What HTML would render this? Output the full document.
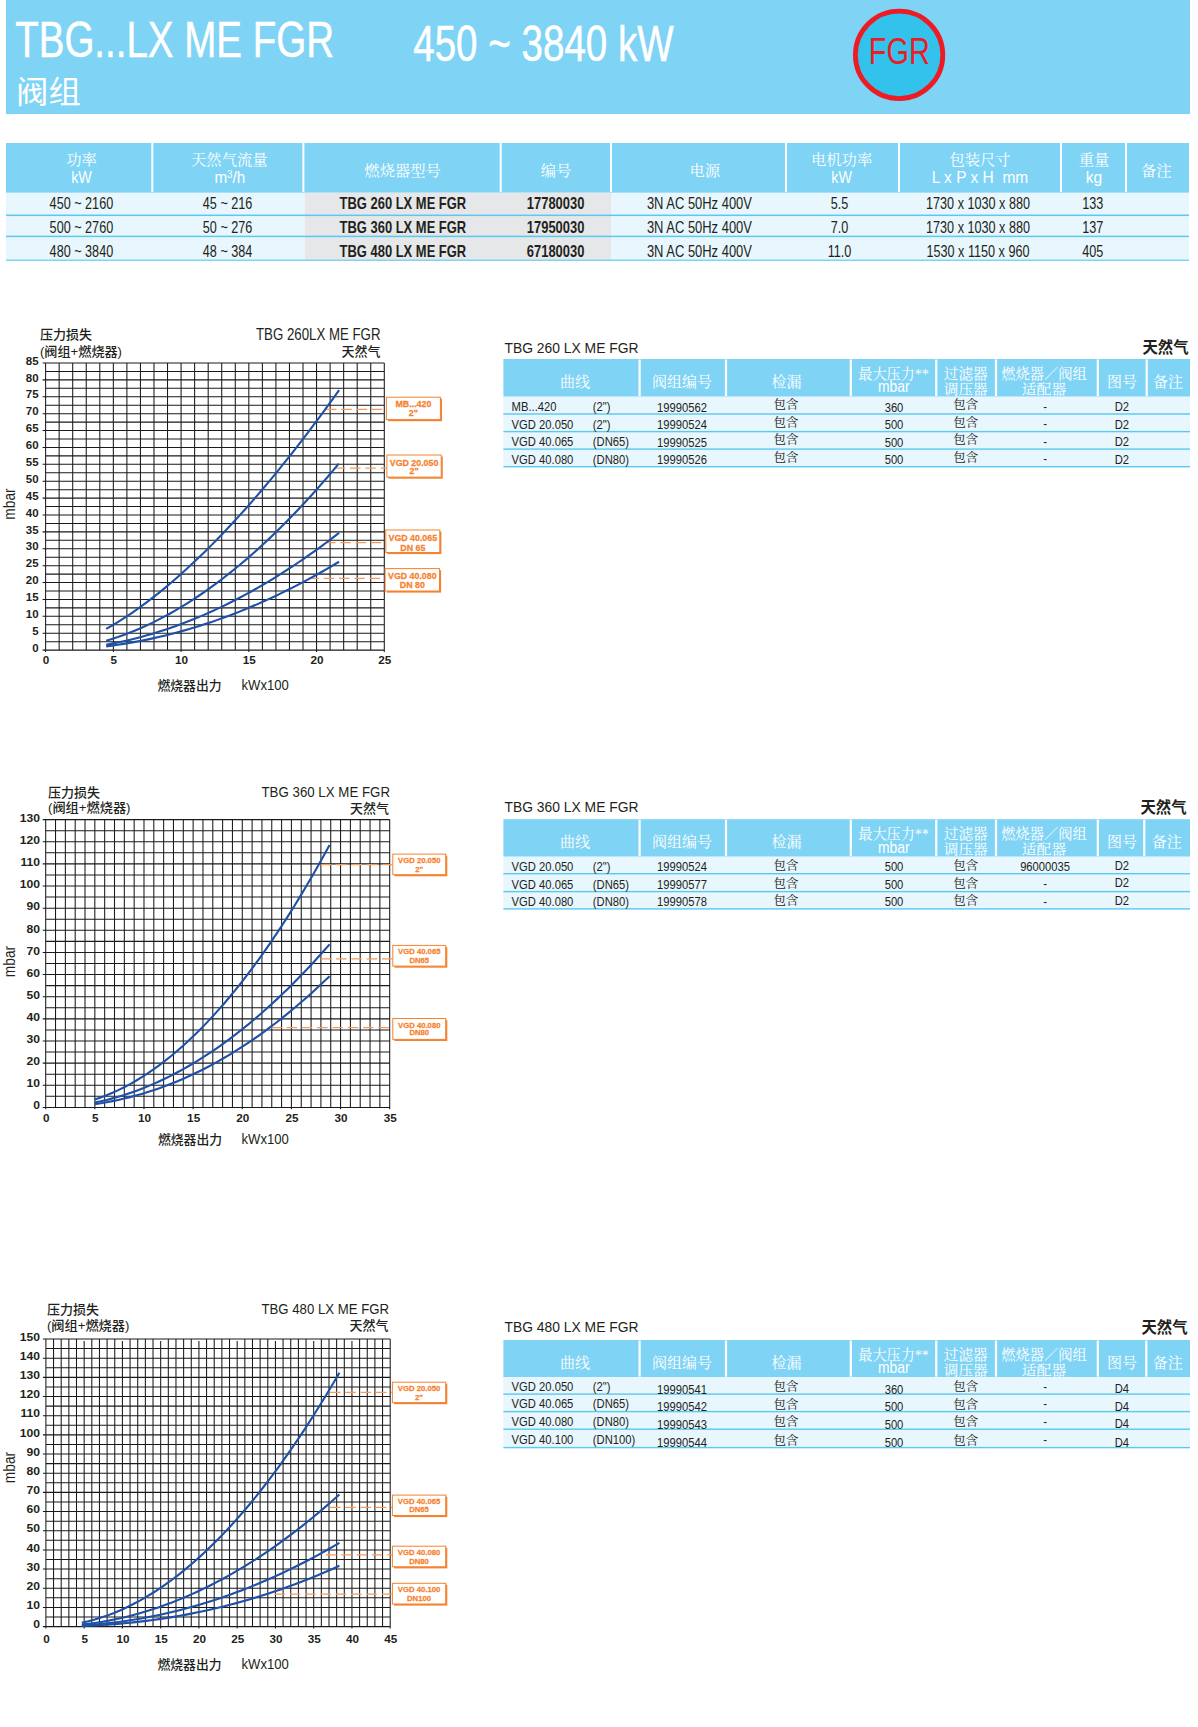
<!DOCTYPE html>
<html lang="zh-CN">
<head>
<meta charset="utf-8">
<title>TBG...LX ME FGR 450 ~ 3840 kW 阀组</title>
<style>
html,body{margin:0;padding:0;background:#fff}
body{width:1198px;height:1727px;position:relative;overflow:hidden}
.sec{position:absolute;overflow:hidden}
.sec svg{display:block}
.a{font-family:"Liberation Sans","Noto Sans CJK SC",sans-serif}
.h{font-family:"Liberation Sans","Noto Sans CJK SC","WenQuanYi Zen Hei",sans-serif}
.s{font-family:"Liberation Serif","Noto Serif CJK SC","Noto Sans CJK SC",serif}
</style>
</head>
<body>
<div class="sec header" style="left:0px;top:0px;width:1198px;height:120px"><svg width="1198" height="120" viewBox="0 0 1198 120" fill="#231f20">
<rect x="6" y="0" width="1184" height="114" fill="#7fd3f5"/>
<text stroke="#fff" stroke-width="0.5" class="a" font-size="49.5" fill="#fff" x="15.2" y="56.7" textLength="318.8" lengthAdjust="spacingAndGlyphs">TBG...LX ME FGR</text>
<text stroke="#fff" stroke-width="0.5" class="a" font-size="49.3" fill="#fff" x="413.2" y="61.3" textLength="260.5" lengthAdjust="spacingAndGlyphs">450 ~ 3840 kW</text>
<text class="h" font-size="30.6" fill="#fff" transform="translate(16 103.4) scale(1.06 1)">阀组</text>
<circle cx="899.1" cy="54.9" r="43.7" fill="#32c2ec" stroke="#ed1c24" stroke-width="4.8"/>
<text class="a" font-size="36.3" text-anchor="middle" fill="#ed1c24" x="899.3" y="63.9" textLength="61" lengthAdjust="spacingAndGlyphs">FGR</text>
</svg></div>
<div class="sec maintable" style="left:0px;top:138px;width:1198px;height:128px"><svg width="1198" height="128" viewBox="0 138 1198 128" fill="#231f20">
<rect x="6" y="143" width="1183" height="49.8" fill="#7fd3f5"/>
<rect x="151.3" y="143" width="2" height="49" fill="#fff"/>
<rect x="302.4" y="143" width="2" height="49" fill="#fff"/>
<rect x="499.7" y="143" width="2" height="49" fill="#fff"/>
<rect x="610" y="143" width="2" height="49" fill="#fff"/>
<rect x="785" y="143" width="2" height="49" fill="#fff"/>
<rect x="898" y="143" width="2" height="49" fill="#fff"/>
<rect x="1060" y="143" width="2" height="49" fill="#fff"/>
<rect x="1125" y="143" width="2" height="49" fill="#fff"/>
<rect x="6" y="192.8" width="1183" height="67.4" fill="#e8f6fd"/>
<rect x="304.9" y="192.8" width="306.1" height="67.4" fill="#e6e7e8"/>
<rect x="6" y="214.55" width="1183" height="1.5" fill="#5bc8ef"/>
<rect x="6" y="235.65" width="1183" height="1.5" fill="#5bc8ef"/>
<rect x="6" y="259.5" width="1183" height="1.5" fill="#7dd4f6"/>
<text class="s" font-size="15.3" text-anchor="middle" fill="#fff" x="81.5" y="164.8">功率</text>
<text class="a" font-size="16.4" text-anchor="middle" fill="#fff" x="81.5" y="183" textLength="20.6" lengthAdjust="spacingAndGlyphs">kW</text>
<text class="s" font-size="15.3" text-anchor="middle" fill="#fff" x="229.3" y="164.8">天然气流量</text>
<text class="a" font-size="16.4" text-anchor="middle" fill="#fff" transform="translate(229.8 183) scale(0.93 1)">m<tspan font-size="10.5" dy="-5.2">3</tspan><tspan dy="5.2">/h</tspan></text>
<text class="s" font-size="15.3" text-anchor="middle" fill="#fff" x="402.6" y="175.6">燃烧器型号</text>
<text class="s" font-size="15.3" text-anchor="middle" fill="#fff" x="556" y="175.6">编号</text>
<text class="s" font-size="15.3" text-anchor="middle" fill="#fff" x="704.8" y="175.6">电源</text>
<text class="s" font-size="15.3" text-anchor="middle" fill="#fff" x="841.6" y="164.8">电机功率</text>
<text class="a" font-size="16.4" text-anchor="middle" fill="#fff" x="841.6" y="183" textLength="20.6" lengthAdjust="spacingAndGlyphs">kW</text>
<text class="s" font-size="15.3" text-anchor="middle" fill="#fff" x="980" y="164.8">包装尺寸</text>
<text class="a" font-size="15.6" text-anchor="middle" fill="#fff" x="980" y="183" textLength="96.5" lengthAdjust="spacingAndGlyphs">L x P x H  mm</text>
<text class="s" font-size="15.3" text-anchor="middle" fill="#fff" x="1094" y="164.8">重量</text>
<text class="a" font-size="16.4" text-anchor="middle" fill="#fff" x="1094" y="183" textLength="16.5" lengthAdjust="spacingAndGlyphs">kg</text>
<text class="s" font-size="15.3" text-anchor="middle" fill="#fff" x="1156.2" y="175.6">备注</text>
<text class="a" font-size="15.6" text-anchor="middle" transform="translate(81.4 209.3) scale(0.81 1)">450 ~ 2160</text>
<text class="a" font-size="15.6" text-anchor="middle" transform="translate(227.6 209.3) scale(0.81 1)">45 ~ 216</text>
<text class="a" font-size="15.6" text-anchor="middle" font-weight="bold" transform="translate(402.9 209.3) scale(0.83 1)">TBG 260 LX ME FGR</text>
<text class="a" font-size="15.6" text-anchor="middle" font-weight="bold" transform="translate(555.6 209.3) scale(0.83 1)">17780030</text>
<text class="a" font-size="15.6" text-anchor="middle" transform="translate(699.4 209.3) scale(0.83 1)">3N AC 50Hz 400V</text>
<text class="a" font-size="15.6" text-anchor="middle" transform="translate(839.5 209.3) scale(0.81 1)">5.5</text>
<text class="a" font-size="15.6" text-anchor="middle" transform="translate(978 209.3) scale(0.81 1)">1730 x 1030 x 880</text>
<text class="a" font-size="15.6" text-anchor="middle" transform="translate(1092.8 209.3) scale(0.81 1)">133</text>
<text class="a" font-size="15.6" text-anchor="middle" transform="translate(81.4 233) scale(0.81 1)">500 ~ 2760</text>
<text class="a" font-size="15.6" text-anchor="middle" transform="translate(227.6 233) scale(0.81 1)">50 ~ 276</text>
<text class="a" font-size="15.6" text-anchor="middle" font-weight="bold" transform="translate(402.9 233) scale(0.83 1)">TBG 360 LX ME FGR</text>
<text class="a" font-size="15.6" text-anchor="middle" font-weight="bold" transform="translate(555.6 233) scale(0.83 1)">17950030</text>
<text class="a" font-size="15.6" text-anchor="middle" transform="translate(699.4 233) scale(0.83 1)">3N AC 50Hz 400V</text>
<text class="a" font-size="15.6" text-anchor="middle" transform="translate(839.5 233) scale(0.81 1)">7.0</text>
<text class="a" font-size="15.6" text-anchor="middle" transform="translate(978 233) scale(0.81 1)">1730 x 1030 x 880</text>
<text class="a" font-size="15.6" text-anchor="middle" transform="translate(1092.8 233) scale(0.81 1)">137</text>
<text class="a" font-size="15.6" text-anchor="middle" transform="translate(81.4 256.9) scale(0.81 1)">480 ~ 3840</text>
<text class="a" font-size="15.6" text-anchor="middle" transform="translate(227.6 256.9) scale(0.81 1)">48 ~ 384</text>
<text class="a" font-size="15.6" text-anchor="middle" font-weight="bold" transform="translate(402.9 256.9) scale(0.83 1)">TBG 480 LX ME FGR</text>
<text class="a" font-size="15.6" text-anchor="middle" font-weight="bold" transform="translate(555.6 256.9) scale(0.83 1)">67180030</text>
<text class="a" font-size="15.6" text-anchor="middle" transform="translate(699.4 256.9) scale(0.83 1)">3N AC 50Hz 400V</text>
<text class="a" font-size="15.6" text-anchor="middle" transform="translate(839.5 256.9) scale(0.81 1)">11.0</text>
<text class="a" font-size="15.6" text-anchor="middle" transform="translate(978 256.9) scale(0.81 1)">1530 x 1150 x 960</text>
<text class="a" font-size="15.6" text-anchor="middle" transform="translate(1092.8 256.9) scale(0.81 1)">405</text>
</svg></div>
<div class="sec chart1" style="left:0px;top:320px;width:460px;height:380px"><svg width="460" height="380" viewBox="0 320 460 380" fill="#231f20">
<path d="M42.6 650.1H384.3M45.6 641.66H384.3M42.6 633.21H384.3M45.6 624.77H384.3M42.6 616.32H384.3M45.6 607.88H384.3M42.6 599.44H384.3M45.6 590.99H384.3M42.6 582.55H384.3M45.6 574.1H384.3M42.6 565.66H384.3M45.6 557.21H384.3M42.6 548.77H384.3M45.6 540.33H384.3M42.6 531.88H384.3M45.6 523.44H384.3M42.6 514.99H384.3M45.6 506.55H384.3M42.6 498.11H384.3M45.6 489.66H384.3M42.6 481.22H384.3M45.6 472.77H384.3M42.6 464.33H384.3M45.6 455.89H384.3M42.6 447.44H384.3M45.6 439H384.3M42.6 430.55H384.3M45.6 422.11H384.3M42.6 413.66H384.3M45.6 405.22H384.3M42.6 396.78H384.3M45.6 388.33H384.3M42.6 379.89H384.3M45.6 371.44H384.3M42.6 363H384.3M45.6 363V652M59.15 363V650.1M72.7 363V650.1M86.24 363V650.1M99.79 363V650.1M113.34 363V652M126.89 363V650.1M140.44 363V650.1M153.98 363V650.1M167.53 363V650.1M181.08 363V652M194.63 363V650.1M208.18 363V650.1M221.72 363V650.1M235.27 363V650.1M248.82 363V652M262.37 363V650.1M275.92 363V650.1M289.46 363V650.1M303.01 363V650.1M316.56 363V652M330.11 363V650.1M343.66 363V650.1M357.2 363V650.1M370.75 363V650.1M384.3 363V652" stroke="#1a1a1a" stroke-width="1.05" fill="none"/>
<line x1="325.9" y1="409.3" x2="386.4" y2="409.3" stroke="#f89a57" stroke-width="1.3" stroke-dasharray="10.5 4.8"/>
<rect x="388" y="398.8" width="54" height="22.4" fill="#f5822f"/>
<rect x="386.4" y="397.2" width="54" height="22.4" fill="#fff" stroke="#f5822f" stroke-width="1"/>
<text stroke="#f5822f" stroke-width="0.25" class="a" font-size="9.2" text-anchor="middle" font-weight="bold" fill="#f5822f" transform="translate(413.4 407) scale(0.96 1)">MB...420</text>
<text stroke="#f5822f" stroke-width="0.25" class="a" font-size="9.2" text-anchor="middle" font-weight="bold" fill="#f5822f" transform="translate(413.4 416.4) scale(0.96 1)">2"</text>
<line x1="334.7" y1="468.2" x2="386.9" y2="468.2" stroke="#f89a57" stroke-width="1.3" stroke-dasharray="10.5 4.8"/>
<rect x="388.5" y="456.6" width="54.3" height="22.1" fill="#f5822f"/>
<rect x="386.9" y="455" width="54.3" height="22.1" fill="#fff" stroke="#f5822f" stroke-width="1"/>
<text stroke="#f5822f" stroke-width="0.25" class="a" font-size="9.2" text-anchor="middle" font-weight="bold" fill="#f5822f" transform="translate(414.05 465.7) scale(0.96 1)">VGD 20.050</text>
<text stroke="#f5822f" stroke-width="0.25" class="a" font-size="9.2" text-anchor="middle" font-weight="bold" fill="#f5822f" transform="translate(414.05 474.3) scale(0.96 1)">2"</text>
<line x1="325" y1="542.6" x2="385.8" y2="542.6" stroke="#f89a57" stroke-width="1.3" stroke-dasharray="10.5 4.8"/>
<rect x="387.4" y="531.6" width="54" height="22.5" fill="#f5822f"/>
<rect x="385.8" y="530" width="54" height="22.5" fill="#fff" stroke="#f5822f" stroke-width="1"/>
<text stroke="#f5822f" stroke-width="0.25" class="a" font-size="9.2" text-anchor="middle" font-weight="bold" fill="#f5822f" transform="translate(412.8 540.5) scale(0.96 1)">VGD 40.065</text>
<text stroke="#f5822f" stroke-width="0.25" class="a" font-size="9.2" text-anchor="middle" font-weight="bold" fill="#f5822f" transform="translate(412.8 550.5) scale(0.96 1)">DN 65</text>
<line x1="308.4" y1="578.4" x2="385.1" y2="578.4" stroke="#f89a57" stroke-width="1.3" stroke-dasharray="10.5 4.8"/>
<rect x="386.7" y="570.2" width="54.4" height="22.4" fill="#f5822f"/>
<rect x="385.1" y="568.6" width="54.4" height="22.4" fill="#fff" stroke="#f5822f" stroke-width="1"/>
<text stroke="#f5822f" stroke-width="0.25" class="a" font-size="9.2" text-anchor="middle" font-weight="bold" fill="#f5822f" transform="translate(412.3 578.6) scale(0.96 1)">VGD 40.080</text>
<text stroke="#f5822f" stroke-width="0.25" class="a" font-size="9.2" text-anchor="middle" font-weight="bold" fill="#f5822f" transform="translate(412.3 588.4) scale(0.96 1)">DN 80</text>
<polyline points="106.16 628.92 111.98 625.6 117.8 622.1 123.63 618.43 129.45 614.59 135.27 610.59 141.09 606.44 146.92 602.13 152.74 597.68 158.56 593.08 164.38 588.34 170.2 583.46 176.03 578.44 181.85 573.29 187.67 568.01 193.49 562.6 199.32 557.07 205.14 551.41 210.96 545.62 216.78 539.72 222.6 533.69 228.43 527.55 234.25 521.29 240.07 514.91 245.89 508.43 251.72 501.83 257.54 495.12 263.36 488.3 269.18 481.37 275 474.33 280.83 467.19 286.65 459.94 292.47 452.59 298.29 445.14 304.12 437.59 309.94 429.93 315.76 422.18 321.58 414.32 327.41 406.37 333.23 398.32 339.05 390.17" fill="none" stroke="#1f50a5" stroke-width="2.1"/>
<polyline points="106.16 640.79 111.98 639.01 117.79 637.1 123.61 635.03 129.42 632.83 135.24 630.48 141.05 627.99 146.87 625.36 152.68 622.59 158.5 619.68 164.31 616.64 170.13 613.46 175.95 610.14 181.76 606.68 187.58 603.09 193.39 599.36 199.21 595.5 205.02 591.51 210.84 587.38 216.65 583.12 222.47 578.73 228.28 574.2 234.1 569.55 239.92 564.76 245.73 559.84 251.55 554.79 257.36 549.62 263.18 544.31 268.99 538.87 274.81 533.31 280.62 527.61 286.44 521.79 292.25 515.84 298.07 509.76 303.89 503.55 309.7 497.22 315.52 490.76 321.33 484.18 327.15 477.46 332.96 470.62 338.78 463.66" fill="none" stroke="#1f50a5" stroke-width="2.1"/>
<polyline points="106.16 644.7 111.98 643.64 117.8 642.49 123.63 641.24 129.45 639.91 135.27 638.48 141.09 636.97 146.92 635.36 152.74 633.66 158.56 631.87 164.38 630 170.2 628.03 176.03 625.98 181.85 623.83 187.67 621.6 193.49 619.28 199.32 616.87 205.14 614.37 210.96 611.78 216.78 609.11 222.6 606.34 228.43 603.49 234.25 600.56 240.07 597.53 245.89 594.42 251.72 591.22 257.54 587.93 263.36 584.56 269.18 581.1 275 577.55 280.83 573.92 286.65 570.19 292.47 566.39 298.29 562.5 304.12 558.52 309.94 554.45 315.76 550.3 321.58 546.06 327.41 541.74 333.23 537.33 339.05 532.84" fill="none" stroke="#1f50a5" stroke-width="2.1"/>
<polyline points="106.16 646.37 111.98 645.61 117.8 644.79 123.63 643.9 129.45 642.93 135.27 641.9 141.09 640.8 146.92 639.62 152.74 638.38 158.56 637.07 164.38 635.69 170.2 634.24 176.03 632.72 181.85 631.13 187.67 629.47 193.49 627.74 199.32 625.94 205.14 624.07 210.96 622.13 216.78 620.12 222.6 618.04 228.43 615.89 234.25 613.67 240.07 611.38 245.89 609.02 251.72 606.59 257.54 604.09 263.36 601.52 269.18 598.88 275 596.18 280.83 593.4 286.65 590.55 292.47 587.63 298.29 584.64 304.12 581.58 309.94 578.45 315.76 575.25 321.58 571.98 327.41 568.64 333.23 565.23 339.05 561.76" fill="none" stroke="#1f50a5" stroke-width="2.1"/>
<text class="a" font-size="10.1" text-anchor="end" font-weight="bold" transform="translate(38.6 651.8) scale(1.14 1)">0</text>
<text class="a" font-size="10.1" text-anchor="end" font-weight="bold" transform="translate(38.6 634.91) scale(1.14 1)">5</text>
<text class="a" font-size="10.1" text-anchor="end" font-weight="bold" transform="translate(38.6 618.02) scale(1.14 1)">10</text>
<text class="a" font-size="10.1" text-anchor="end" font-weight="bold" transform="translate(38.6 601.14) scale(1.14 1)">15</text>
<text class="a" font-size="10.1" text-anchor="end" font-weight="bold" transform="translate(38.6 584.25) scale(1.14 1)">20</text>
<text class="a" font-size="10.1" text-anchor="end" font-weight="bold" transform="translate(38.6 567.36) scale(1.14 1)">25</text>
<text class="a" font-size="10.1" text-anchor="end" font-weight="bold" transform="translate(38.6 550.47) scale(1.14 1)">30</text>
<text class="a" font-size="10.1" text-anchor="end" font-weight="bold" transform="translate(38.6 533.58) scale(1.14 1)">35</text>
<text class="a" font-size="10.1" text-anchor="end" font-weight="bold" transform="translate(38.6 516.69) scale(1.14 1)">40</text>
<text class="a" font-size="10.1" text-anchor="end" font-weight="bold" transform="translate(38.6 499.81) scale(1.14 1)">45</text>
<text class="a" font-size="10.1" text-anchor="end" font-weight="bold" transform="translate(38.6 482.92) scale(1.14 1)">50</text>
<text class="a" font-size="10.1" text-anchor="end" font-weight="bold" transform="translate(38.6 466.03) scale(1.14 1)">55</text>
<text class="a" font-size="10.1" text-anchor="end" font-weight="bold" transform="translate(38.6 449.14) scale(1.14 1)">60</text>
<text class="a" font-size="10.1" text-anchor="end" font-weight="bold" transform="translate(38.6 432.25) scale(1.14 1)">65</text>
<text class="a" font-size="10.1" text-anchor="end" font-weight="bold" transform="translate(38.6 415.36) scale(1.14 1)">70</text>
<text class="a" font-size="10.1" text-anchor="end" font-weight="bold" transform="translate(38.6 398.48) scale(1.14 1)">75</text>
<text class="a" font-size="10.1" text-anchor="end" font-weight="bold" transform="translate(38.6 381.59) scale(1.14 1)">80</text>
<text class="a" font-size="10.1" text-anchor="end" font-weight="bold" transform="translate(38.6 364.7) scale(1.14 1)">85</text>
<text class="a" font-size="10.2" text-anchor="middle" font-weight="bold" transform="translate(46.1 663.9) scale(1.15 1)">0</text>
<text class="a" font-size="10.2" text-anchor="middle" font-weight="bold" transform="translate(113.84 663.9) scale(1.15 1)">5</text>
<text class="a" font-size="10.2" text-anchor="middle" font-weight="bold" transform="translate(181.58 663.9) scale(1.15 1)">10</text>
<text class="a" font-size="10.2" text-anchor="middle" font-weight="bold" transform="translate(249.32 663.9) scale(1.15 1)">15</text>
<text class="a" font-size="10.2" text-anchor="middle" font-weight="bold" transform="translate(317.06 663.9) scale(1.15 1)">20</text>
<text class="a" font-size="10.2" text-anchor="middle" font-weight="bold" transform="translate(384.8 663.9) scale(1.15 1)">25</text>
<text class="h" font-size="13" font-weight="500" x="40" y="339.3">压力损失</text>
<text class="h" font-size="13" font-weight="500" x="40" y="356.3" textLength="82" lengthAdjust="spacingAndGlyphs">(阀组+燃烧器)</text>
<text class="a" font-size="15.8" text-anchor="end" x="380.5" y="340" textLength="124.5" lengthAdjust="spacingAndGlyphs">TBG 260LX ME FGR</text>
<text class="h" font-size="13" text-anchor="end" font-weight="500" x="380.5" y="356.3">天然气</text>
<text class="a" font-size="16.2" text-anchor="middle" transform="translate(15.2 504) rotate(-90) scale(0.85 1)">mbar</text>
<text class="h" font-size="13" font-weight="500" x="157.5" y="690.2" textLength="64" lengthAdjust="spacingAndGlyphs">燃烧器出力</text>
<text class="a" font-size="14.1" x="241.5" y="690.2" textLength="47.3" lengthAdjust="spacingAndGlyphs">kWx100</text>
</svg></div>
<div class="sec chart2" style="left:0px;top:780px;width:460px;height:380px"><svg width="460" height="380" viewBox="0 780 460 380" fill="#231f20">
<path d="M42.7 1107.4H389.7M45.7 1096.33H389.7M42.7 1085.26H389.7M45.7 1074.19H389.7M42.7 1063.12H389.7M45.7 1052.05H389.7M42.7 1040.98H389.7M45.7 1029.92H389.7M42.7 1018.85H389.7M45.7 1007.78H389.7M42.7 996.71H389.7M45.7 985.64H389.7M42.7 974.57H389.7M45.7 963.5H389.7M42.7 952.43H389.7M45.7 941.36H389.7M42.7 930.29H389.7M45.7 919.22H389.7M42.7 908.15H389.7M45.7 897.08H389.7M42.7 886.02H389.7M45.7 874.95H389.7M42.7 863.88H389.7M45.7 852.81H389.7M42.7 841.74H389.7M45.7 830.67H389.7M42.7 819.6H389.7M45.7 819.6V1109.3M55.53 819.6V1107.4M65.36 819.6V1107.4M75.19 819.6V1107.4M85.01 819.6V1107.4M94.84 819.6V1109.3M104.67 819.6V1107.4M114.5 819.6V1107.4M124.33 819.6V1107.4M134.16 819.6V1107.4M143.99 819.6V1109.3M153.81 819.6V1107.4M163.64 819.6V1107.4M173.47 819.6V1107.4M183.3 819.6V1107.4M193.13 819.6V1109.3M202.96 819.6V1107.4M212.79 819.6V1107.4M222.61 819.6V1107.4M232.44 819.6V1107.4M242.27 819.6V1109.3M252.1 819.6V1107.4M261.93 819.6V1107.4M271.76 819.6V1107.4M281.59 819.6V1107.4M291.41 819.6V1109.3M301.24 819.6V1107.4M311.07 819.6V1107.4M320.9 819.6V1107.4M330.73 819.6V1107.4M340.56 819.6V1109.3M350.39 819.6V1107.4M360.21 819.6V1107.4M370.04 819.6V1107.4M379.87 819.6V1107.4M389.7 819.6V1109.3" stroke="#1a1a1a" stroke-width="1.05" fill="none"/>
<line x1="320.8" y1="864.6" x2="392.8" y2="864.6" stroke="#f89a57" stroke-width="1.3" stroke-dasharray="10.5 4.8"/>
<rect x="394.4" y="855.7" width="52.9" height="20.6" fill="#f5822f"/>
<rect x="392.8" y="854.1" width="52.9" height="20.6" fill="#fff" stroke="#f5822f" stroke-width="1"/>
<text stroke="#f5822f" stroke-width="0.25" class="a" font-size="8.05" text-anchor="middle" font-weight="bold" fill="#f5822f" transform="translate(419.25 862.7) scale(0.96 1)">VGD 20.050</text>
<text stroke="#f5822f" stroke-width="0.25" class="a" font-size="8.05" text-anchor="middle" font-weight="bold" fill="#f5822f" transform="translate(419.25 871.6) scale(0.96 1)">2"</text>
<line x1="320.8" y1="958.8" x2="392.8" y2="958.8" stroke="#f89a57" stroke-width="1.3" stroke-dasharray="10.5 4.8"/>
<rect x="394.4" y="947" width="52.9" height="20.7" fill="#f5822f"/>
<rect x="392.8" y="945.4" width="52.9" height="20.7" fill="#fff" stroke="#f5822f" stroke-width="1"/>
<text stroke="#f5822f" stroke-width="0.25" class="a" font-size="8.05" text-anchor="middle" font-weight="bold" fill="#f5822f" transform="translate(419.25 954) scale(0.96 1)">VGD 40.065</text>
<text stroke="#f5822f" stroke-width="0.25" class="a" font-size="8.05" text-anchor="middle" font-weight="bold" fill="#f5822f" transform="translate(419.25 962.5) scale(0.96 1)">DN65</text>
<line x1="271.2" y1="1027.7" x2="392.8" y2="1027.7" stroke="#f89a57" stroke-width="1.3" stroke-dasharray="10.5 4.8"/>
<rect x="394.4" y="1020.1" width="52.9" height="20.9" fill="#f5822f"/>
<rect x="392.8" y="1018.5" width="52.9" height="20.9" fill="#fff" stroke="#f5822f" stroke-width="1"/>
<text stroke="#f5822f" stroke-width="0.25" class="a" font-size="8.05" text-anchor="middle" font-weight="bold" fill="#f5822f" transform="translate(419.25 1027.7) scale(0.96 1)">VGD 40.080</text>
<text stroke="#f5822f" stroke-width="0.25" class="a" font-size="8.05" text-anchor="middle" font-weight="bold" fill="#f5822f" transform="translate(419.25 1035.4) scale(0.96 1)">DN80</text>
<polyline points="94.84 1099.47 100.71 1097.46 106.58 1095.24 112.45 1092.79 118.31 1090.11 124.18 1087.21 130.05 1084.09 135.92 1080.74 141.78 1077.17 147.65 1073.38 153.52 1069.36 159.39 1065.12 165.25 1060.65 171.12 1055.97 176.99 1051.05 182.86 1045.92 188.73 1040.56 194.59 1034.98 200.46 1029.17 206.33 1023.14 212.2 1016.89 218.06 1010.41 223.93 1003.72 229.8 996.8 235.67 989.65 241.53 982.28 247.4 974.69 253.27 966.88 259.14 958.84 265 950.58 270.87 942.1 276.74 933.4 282.61 924.47 288.48 915.32 294.34 905.95 300.21 896.35 306.08 886.53 311.95 876.49 317.81 866.23 323.68 855.74 329.55 845.03" fill="none" stroke="#1f50a5" stroke-width="2.1"/>
<polyline points="94.84 1102.51 100.71 1101.28 106.58 1099.9 112.45 1098.38 118.31 1096.73 124.18 1094.94 130.05 1093 135.92 1090.93 141.78 1088.72 147.65 1086.37 153.52 1083.88 159.39 1081.25 165.25 1078.48 171.12 1075.57 176.99 1072.52 182.86 1069.33 188.73 1066 194.59 1062.54 200.46 1058.93 206.33 1055.19 212.2 1051.3 218.06 1047.28 223.93 1043.12 229.8 1038.81 235.67 1034.37 241.53 1029.79 247.4 1025.07 253.27 1020.21 259.14 1015.21 265 1010.08 270.87 1004.8 276.74 999.38 282.61 993.82 288.48 988.13 294.34 982.29 300.21 976.32 306.08 970.21 311.95 963.95 317.81 957.56 323.68 951.03 329.55 944.36" fill="none" stroke="#1f50a5" stroke-width="2.1"/>
<polyline points="94.84 1104.1 100.71 1103.22 106.58 1102.23 112.45 1101.12 118.31 1099.91 124.18 1098.58 130.05 1097.14 135.92 1095.58 141.78 1093.91 147.65 1092.12 153.52 1090.21 159.39 1088.19 165.25 1086.05 171.12 1083.79 176.99 1081.41 182.86 1078.91 188.73 1076.29 194.59 1073.55 200.46 1070.69 206.33 1067.7 212.2 1064.6 218.06 1061.37 223.93 1058.02 229.8 1054.54 235.67 1050.94 241.53 1047.21 247.4 1043.37 253.27 1039.39 259.14 1035.29 265 1031.06 270.87 1026.71 276.74 1022.23 282.61 1017.63 288.48 1012.89 294.34 1008.03 300.21 1003.05 306.08 997.93 311.95 992.69 317.81 987.31 323.68 981.81 329.55 976.18" fill="none" stroke="#1f50a5" stroke-width="2.1"/>
<text class="a" font-size="10.1" text-anchor="end" font-weight="bold" transform="translate(40 1109.1) scale(1.2 1)">0</text>
<text class="a" font-size="10.1" text-anchor="end" font-weight="bold" transform="translate(40 1087.03) scale(1.2 1)">10</text>
<text class="a" font-size="10.1" text-anchor="end" font-weight="bold" transform="translate(40 1064.96) scale(1.2 1)">20</text>
<text class="a" font-size="10.1" text-anchor="end" font-weight="bold" transform="translate(40 1042.89) scale(1.2 1)">30</text>
<text class="a" font-size="10.1" text-anchor="end" font-weight="bold" transform="translate(40 1020.82) scale(1.2 1)">40</text>
<text class="a" font-size="10.1" text-anchor="end" font-weight="bold" transform="translate(40 998.75) scale(1.2 1)">50</text>
<text class="a" font-size="10.1" text-anchor="end" font-weight="bold" transform="translate(40 976.68) scale(1.2 1)">60</text>
<text class="a" font-size="10.1" text-anchor="end" font-weight="bold" transform="translate(40 954.62) scale(1.2 1)">70</text>
<text class="a" font-size="10.1" text-anchor="end" font-weight="bold" transform="translate(40 932.55) scale(1.2 1)">80</text>
<text class="a" font-size="10.1" text-anchor="end" font-weight="bold" transform="translate(40 910.48) scale(1.2 1)">90</text>
<text class="a" font-size="10.1" text-anchor="end" font-weight="bold" transform="translate(40 888.41) scale(1.2 1)">100</text>
<text class="a" font-size="10.1" text-anchor="end" font-weight="bold" transform="translate(40 866.34) scale(1.2 1)">110</text>
<text class="a" font-size="10.1" text-anchor="end" font-weight="bold" transform="translate(40 844.27) scale(1.2 1)">120</text>
<text class="a" font-size="10.1" text-anchor="end" font-weight="bold" transform="translate(40 822.2) scale(1.2 1)">130</text>
<text class="a" font-size="10.2" text-anchor="middle" font-weight="bold" transform="translate(46.2 1121.8) scale(1.15 1)">0</text>
<text class="a" font-size="10.2" text-anchor="middle" font-weight="bold" transform="translate(95.34 1121.8) scale(1.15 1)">5</text>
<text class="a" font-size="10.2" text-anchor="middle" font-weight="bold" transform="translate(144.49 1121.8) scale(1.15 1)">10</text>
<text class="a" font-size="10.2" text-anchor="middle" font-weight="bold" transform="translate(193.63 1121.8) scale(1.15 1)">15</text>
<text class="a" font-size="10.2" text-anchor="middle" font-weight="bold" transform="translate(242.77 1121.8) scale(1.15 1)">20</text>
<text class="a" font-size="10.2" text-anchor="middle" font-weight="bold" transform="translate(291.91 1121.8) scale(1.15 1)">25</text>
<text class="a" font-size="10.2" text-anchor="middle" font-weight="bold" transform="translate(341.06 1121.8) scale(1.15 1)">30</text>
<text class="a" font-size="10.2" text-anchor="middle" font-weight="bold" transform="translate(390.2 1121.8) scale(1.15 1)">35</text>
<text class="h" font-size="13" font-weight="500" x="48" y="796.9">压力损失</text>
<text class="h" font-size="13" font-weight="500" x="48" y="812.2" textLength="82.5" lengthAdjust="spacingAndGlyphs">(阀组+燃烧器)</text>
<text class="a" font-size="15.2" text-anchor="end" x="390" y="796.6" textLength="128.5" lengthAdjust="spacingAndGlyphs">TBG 360 LX ME FGR</text>
<text class="h" font-size="13" text-anchor="end" font-weight="500" x="389" y="812.5">天然气</text>
<text class="a" font-size="16.2" text-anchor="middle" transform="translate(15.2 961.5) rotate(-90) scale(0.85 1)">mbar</text>
<text class="h" font-size="13" font-weight="500" x="158" y="1143.5" textLength="64" lengthAdjust="spacingAndGlyphs">燃烧器出力</text>
<text class="a" font-size="14.1" x="241.5" y="1143.5" textLength="47.3" lengthAdjust="spacingAndGlyphs">kWx100</text>
</svg></div>
<div class="sec chart3" style="left:0px;top:1298px;width:460px;height:380px"><svg width="460" height="380" viewBox="0 1298 460 380" fill="#231f20">
<path d="M42.9 1626.6H390.2M45.9 1617.01H390.2M42.9 1607.43H390.2M45.9 1597.84H390.2M42.9 1588.25H390.2M45.9 1578.67H390.2M42.9 1569.08H390.2M45.9 1559.49H390.2M42.9 1549.91H390.2M45.9 1540.32H390.2M42.9 1530.73H390.2M45.9 1521.15H390.2M42.9 1511.56H390.2M45.9 1501.97H390.2M42.9 1492.39H390.2M45.9 1482.8H390.2M42.9 1473.21H390.2M45.9 1463.63H390.2M42.9 1454.04H390.2M45.9 1444.45H390.2M42.9 1434.87H390.2M45.9 1425.28H390.2M42.9 1415.69H390.2M45.9 1406.11H390.2M42.9 1396.52H390.2M45.9 1386.93H390.2M42.9 1377.35H390.2M45.9 1367.76H390.2M42.9 1358.17H390.2M45.9 1348.59H390.2M42.9 1339H390.2M45.9 1339V1628.5M53.55 1339V1626.6M61.2 1339V1626.6M68.85 1339V1626.6M76.5 1339V1626.6M84.16 1341V1628.5M91.81 1339V1626.6M99.46 1339V1626.6M107.11 1339V1626.6M114.76 1339V1626.6M122.41 1341V1628.5M130.06 1339V1626.6M137.71 1339V1626.6M145.36 1339V1626.6M153.02 1339V1626.6M160.67 1341V1628.5M168.32 1339V1626.6M175.97 1339V1626.6M183.62 1339V1626.6M191.27 1339V1626.6M198.92 1341V1628.5M206.57 1339V1626.6M214.22 1339V1626.6M221.88 1339V1626.6M229.53 1339V1626.6M237.18 1341V1628.5M244.83 1339V1626.6M252.48 1339V1626.6M260.13 1339V1626.6M267.78 1339V1626.6M275.43 1341V1628.5M283.08 1339V1626.6M290.74 1339V1626.6M298.39 1339V1626.6M306.04 1339V1626.6M313.69 1341V1628.5M321.34 1339V1626.6M328.99 1339V1626.6M336.64 1339V1626.6M344.29 1339V1626.6M351.94 1341V1628.5M359.6 1339V1626.6M367.25 1339V1626.6M374.9 1339V1626.6M382.55 1339V1626.6M390.2 1339V1628.5" stroke="#1a1a1a" stroke-width="1.05" fill="none"/>
<line x1="330" y1="1392.3" x2="392.4" y2="1392.3" stroke="#f89a57" stroke-width="1.3" stroke-dasharray="10.5 4.8"/>
<rect x="394" y="1383.8" width="53.3" height="20.4" fill="#f5822f"/>
<rect x="392.4" y="1382.2" width="53.3" height="20.4" fill="#fff" stroke="#f5822f" stroke-width="1"/>
<text stroke="#f5822f" stroke-width="0.25" class="a" font-size="8.05" text-anchor="middle" font-weight="bold" fill="#f5822f" transform="translate(419.05 1390.6) scale(0.96 1)">VGD 20.050</text>
<text stroke="#f5822f" stroke-width="0.25" class="a" font-size="8.05" text-anchor="middle" font-weight="bold" fill="#f5822f" transform="translate(419.05 1399.6) scale(0.96 1)">2"</text>
<line x1="330" y1="1507.3" x2="392.4" y2="1507.3" stroke="#f89a57" stroke-width="1.3" stroke-dasharray="10.5 4.8"/>
<rect x="394" y="1496.7" width="53.3" height="20.4" fill="#f5822f"/>
<rect x="392.4" y="1495.1" width="53.3" height="20.4" fill="#fff" stroke="#f5822f" stroke-width="1"/>
<text stroke="#f5822f" stroke-width="0.25" class="a" font-size="8.05" text-anchor="middle" font-weight="bold" fill="#f5822f" transform="translate(419.05 1503.6) scale(0.96 1)">VGD 40.065</text>
<text stroke="#f5822f" stroke-width="0.25" class="a" font-size="8.05" text-anchor="middle" font-weight="bold" fill="#f5822f" transform="translate(419.05 1511.7) scale(0.96 1)">DN65</text>
<line x1="326" y1="1554.8" x2="392.4" y2="1554.8" stroke="#f89a57" stroke-width="1.3" stroke-dasharray="10.5 4.8"/>
<rect x="394" y="1547.8" width="53.3" height="20.6" fill="#f5822f"/>
<rect x="392.4" y="1546.2" width="53.3" height="20.6" fill="#fff" stroke="#f5822f" stroke-width="1"/>
<text stroke="#f5822f" stroke-width="0.25" class="a" font-size="8.05" text-anchor="middle" font-weight="bold" fill="#f5822f" transform="translate(419.05 1554.7) scale(0.96 1)">VGD 40.080</text>
<text stroke="#f5822f" stroke-width="0.25" class="a" font-size="8.05" text-anchor="middle" font-weight="bold" fill="#f5822f" transform="translate(419.05 1563.7) scale(0.96 1)">DN80</text>
<line x1="274.5" y1="1594.1" x2="392.4" y2="1594.1" stroke="#f89a57" stroke-width="1.3" stroke-dasharray="10.5 4.8"/>
<rect x="394" y="1584.9" width="53.3" height="20.7" fill="#f5822f"/>
<rect x="392.4" y="1583.3" width="53.3" height="20.7" fill="#fff" stroke="#f5822f" stroke-width="1"/>
<text stroke="#f5822f" stroke-width="0.25" class="a" font-size="8.05" text-anchor="middle" font-weight="bold" fill="#f5822f" transform="translate(419.05 1591.7) scale(0.96 1)">VGD 40.100</text>
<text stroke="#f5822f" stroke-width="0.25" class="a" font-size="8.05" text-anchor="middle" font-weight="bold" fill="#f5822f" transform="translate(419.05 1600.7) scale(0.96 1)">DN100</text>
<polyline points="81.86 1622.79 88.3 1621.3 94.74 1619.57 101.18 1617.59 107.61 1615.37 114.05 1612.91 120.49 1610.2 126.93 1607.25 133.37 1604.05 139.81 1600.61 146.24 1596.92 152.68 1592.99 159.12 1588.81 165.56 1584.39 172 1579.73 178.44 1574.82 184.87 1569.67 191.31 1564.27 197.75 1558.63 204.19 1552.74 210.63 1546.61 217.07 1540.24 223.51 1533.62 229.94 1526.75 236.38 1519.65 242.82 1512.29 249.26 1504.7 255.7 1496.85 262.14 1488.77 268.57 1480.44 275.01 1471.86 281.45 1463.05 287.89 1453.98 294.33 1444.68 300.77 1435.12 307.2 1425.33 313.64 1415.29 320.08 1405 326.52 1394.47 332.96 1383.7 339.4 1372.68" fill="none" stroke="#1f50a5" stroke-width="2.1"/>
<polyline points="81.86 1624.66 88.3 1623.9 94.74 1623.01 101.18 1621.99 107.61 1620.85 114.05 1619.58 120.49 1618.18 126.93 1616.66 133.37 1615.01 139.81 1613.23 146.24 1611.32 152.68 1609.29 159.12 1607.13 165.56 1604.84 172 1602.42 178.44 1599.87 184.87 1597.2 191.31 1594.4 197.75 1591.47 204.19 1588.41 210.63 1585.22 217.07 1581.91 223.51 1578.46 229.94 1574.89 236.38 1571.19 242.82 1567.36 249.26 1563.41 255.7 1559.32 262.14 1555.11 268.57 1550.76 275.01 1546.29 281.45 1541.69 287.89 1536.96 294.33 1532.1 300.77 1527.12 307.2 1522 313.64 1516.75 320.08 1511.38 326.52 1505.88 332.96 1500.25 339.4 1494.49" fill="none" stroke="#1f50a5" stroke-width="2.1"/>
<polyline points="81.86 1625.51 88.3 1625.07 94.74 1624.55 101.18 1623.96 107.61 1623.28 114.05 1622.52 120.49 1621.68 126.93 1620.76 133.37 1619.76 139.81 1618.68 146.24 1617.51 152.68 1616.27 159.12 1614.93 165.56 1613.52 172 1612.02 178.44 1610.44 184.87 1608.77 191.31 1607.02 197.75 1605.18 204.19 1603.26 210.63 1601.25 217.07 1599.15 223.51 1596.97 229.94 1594.71 236.38 1592.35 242.82 1589.92 249.26 1587.39 255.7 1584.78 262.14 1582.07 268.57 1579.29 275.01 1576.41 281.45 1573.45 287.89 1570.4 294.33 1567.26 300.77 1564.03 307.2 1560.71 313.64 1557.31 320.08 1553.81 326.52 1550.23 332.96 1546.56 339.4 1542.8" fill="none" stroke="#1f50a5" stroke-width="2.1"/>
<polyline points="81.86 1626 88.3 1625.74 94.74 1625.42 101.18 1625.06 107.61 1624.63 114.05 1624.15 120.49 1623.62 126.93 1623.02 133.37 1622.36 139.81 1621.65 146.24 1620.87 152.68 1620.03 159.12 1619.12 165.56 1618.16 172 1617.13 178.44 1616.03 184.87 1614.87 191.31 1613.64 197.75 1612.34 204.19 1610.98 210.63 1609.54 217.07 1608.04 223.51 1606.47 229.94 1604.83 236.38 1603.12 242.82 1601.34 249.26 1599.49 255.7 1597.56 262.14 1595.57 268.57 1593.5 275.01 1591.35 281.45 1589.14 287.89 1586.85 294.33 1584.49 300.77 1582.05 307.2 1579.53 313.64 1576.94 320.08 1574.28 326.52 1571.54 332.96 1568.72 339.4 1565.83" fill="none" stroke="#1f50a5" stroke-width="2.1"/>
<text class="a" font-size="10.1" text-anchor="end" font-weight="bold" transform="translate(40 1628.3) scale(1.2 1)">0</text>
<text class="a" font-size="10.1" text-anchor="end" font-weight="bold" transform="translate(40 1609.13) scale(1.2 1)">10</text>
<text class="a" font-size="10.1" text-anchor="end" font-weight="bold" transform="translate(40 1589.95) scale(1.2 1)">20</text>
<text class="a" font-size="10.1" text-anchor="end" font-weight="bold" transform="translate(40 1570.78) scale(1.2 1)">30</text>
<text class="a" font-size="10.1" text-anchor="end" font-weight="bold" transform="translate(40 1551.61) scale(1.2 1)">40</text>
<text class="a" font-size="10.1" text-anchor="end" font-weight="bold" transform="translate(40 1532.43) scale(1.2 1)">50</text>
<text class="a" font-size="10.1" text-anchor="end" font-weight="bold" transform="translate(40 1513.26) scale(1.2 1)">60</text>
<text class="a" font-size="10.1" text-anchor="end" font-weight="bold" transform="translate(40 1494.09) scale(1.2 1)">70</text>
<text class="a" font-size="10.1" text-anchor="end" font-weight="bold" transform="translate(40 1474.91) scale(1.2 1)">80</text>
<text class="a" font-size="10.1" text-anchor="end" font-weight="bold" transform="translate(40 1455.74) scale(1.2 1)">90</text>
<text class="a" font-size="10.1" text-anchor="end" font-weight="bold" transform="translate(40 1436.57) scale(1.2 1)">100</text>
<text class="a" font-size="10.1" text-anchor="end" font-weight="bold" transform="translate(40 1417.39) scale(1.2 1)">110</text>
<text class="a" font-size="10.1" text-anchor="end" font-weight="bold" transform="translate(40 1398.22) scale(1.2 1)">120</text>
<text class="a" font-size="10.1" text-anchor="end" font-weight="bold" transform="translate(40 1379.05) scale(1.2 1)">130</text>
<text class="a" font-size="10.1" text-anchor="end" font-weight="bold" transform="translate(40 1359.87) scale(1.2 1)">140</text>
<text class="a" font-size="10.1" text-anchor="end" font-weight="bold" transform="translate(40 1340.7) scale(1.2 1)">150</text>
<text class="a" font-size="10.2" text-anchor="middle" font-weight="bold" transform="translate(46.4 1643.3) scale(1.15 1)">0</text>
<text class="a" font-size="10.2" text-anchor="middle" font-weight="bold" transform="translate(84.66 1643.3) scale(1.15 1)">5</text>
<text class="a" font-size="10.2" text-anchor="middle" font-weight="bold" transform="translate(122.91 1643.3) scale(1.15 1)">10</text>
<text class="a" font-size="10.2" text-anchor="middle" font-weight="bold" transform="translate(161.17 1643.3) scale(1.15 1)">15</text>
<text class="a" font-size="10.2" text-anchor="middle" font-weight="bold" transform="translate(199.42 1643.3) scale(1.15 1)">20</text>
<text class="a" font-size="10.2" text-anchor="middle" font-weight="bold" transform="translate(237.68 1643.3) scale(1.15 1)">25</text>
<text class="a" font-size="10.2" text-anchor="middle" font-weight="bold" transform="translate(275.93 1643.3) scale(1.15 1)">30</text>
<text class="a" font-size="10.2" text-anchor="middle" font-weight="bold" transform="translate(314.19 1643.3) scale(1.15 1)">35</text>
<text class="a" font-size="10.2" text-anchor="middle" font-weight="bold" transform="translate(352.44 1643.3) scale(1.15 1)">40</text>
<text class="a" font-size="10.2" text-anchor="middle" font-weight="bold" transform="translate(390.7 1643.3) scale(1.15 1)">45</text>
<text class="h" font-size="13" font-weight="500" x="46.9" y="1313.8">压力损失</text>
<text class="h" font-size="13" font-weight="500" x="46.9" y="1329.9" textLength="82.5" lengthAdjust="spacingAndGlyphs">(阀组+燃烧器)</text>
<text class="a" font-size="15.2" text-anchor="end" x="389" y="1313.6" textLength="127.5" lengthAdjust="spacingAndGlyphs">TBG 480 LX ME FGR</text>
<text class="h" font-size="13" text-anchor="end" font-weight="500" x="388.4" y="1330.4">天然气</text>
<text class="a" font-size="16.2" text-anchor="middle" transform="translate(15.2 1467.5) rotate(-90) scale(0.85 1)">mbar</text>
<text class="h" font-size="13" font-weight="500" x="157.5" y="1668.6" textLength="64" lengthAdjust="spacingAndGlyphs">燃烧器出力</text>
<text class="a" font-size="14.1" x="241.5" y="1668.6" textLength="47.3" lengthAdjust="spacingAndGlyphs">kWx100</text>
</svg></div>
<div class="sec vt1" style="left:495px;top:335px;width:703px;height:140px"><svg width="703" height="140" viewBox="495 335 703 140" fill="#231f20">
<text class="a" font-size="14.9" x="504.5" y="352.6" textLength="134" lengthAdjust="spacingAndGlyphs">TBG 260 LX ME FGR</text>
<text class="h" font-size="15.4" text-anchor="end" font-weight="bold" x="1188.6" y="352.7">天然气</text>
<rect x="503.4" y="359" width="686.6" height="37.7" fill="#7fd3f5"/>
<rect x="638.5" y="359.5" width="2.2" height="36.7" fill="#fff"/>
<rect x="724.9" y="359.5" width="2.2" height="36.7" fill="#fff"/>
<rect x="849.7" y="359.5" width="2.2" height="36.7" fill="#fff"/>
<rect x="935.2" y="359.5" width="2.2" height="36.7" fill="#fff"/>
<rect x="994.9" y="359.5" width="2.2" height="36.7" fill="#fff"/>
<rect x="1096.7" y="359.5" width="2.2" height="36.7" fill="#fff"/>
<rect x="1145.6" y="359.5" width="2.2" height="36.7" fill="#fff"/>
<rect x="503.4" y="396.7" width="686.6" height="70" fill="#e8f6fd"/>
<rect x="503.4" y="413.3" width="686.6" height="1.4" fill="#5bc8ef"/>
<rect x="503.4" y="430.9" width="686.6" height="1.4" fill="#5bc8ef"/>
<rect x="503.4" y="448.4" width="686.6" height="1.4" fill="#5bc8ef"/>
<rect x="503.4" y="466" width="686.6" height="1.4" fill="#5bc8ef"/>
<text class="s" font-size="15" text-anchor="middle" fill="#fff" x="574.9" y="386.9">曲线</text>
<text class="s" font-size="15" text-anchor="middle" fill="#fff" x="682" y="386.9">阀组编号</text>
<text class="s" font-size="15" text-anchor="middle" fill="#fff" x="786.6" y="386.9">检漏</text>
<text class="s" font-size="14.8" text-anchor="middle" fill="#fff" x="893.6" y="378.9" textLength="70.5" lengthAdjust="spacingAndGlyphs">最大压力**</text>
<text class="a" font-size="16" text-anchor="middle" fill="#fff" x="893.8" y="392.3" textLength="31.5" lengthAdjust="spacingAndGlyphs">mbar</text>
<text class="s" font-size="14.4" text-anchor="middle" fill="#fff" x="965.8" y="378.6" textLength="44" lengthAdjust="spacingAndGlyphs">过滤器</text>
<text class="s" font-size="14.2" text-anchor="middle" fill="#fff" x="965.8" y="393.7" textLength="44" lengthAdjust="spacingAndGlyphs">调压器</text>
<text class="s" font-size="14.4" text-anchor="middle" fill="#fff" x="1044" y="378.6" textLength="85.5" lengthAdjust="spacingAndGlyphs">燃烧器／阀组</text>
<text class="s" font-size="14.2" text-anchor="middle" fill="#fff" x="1044" y="393.7" textLength="44.5" lengthAdjust="spacingAndGlyphs">适配器</text>
<text class="s" font-size="15" text-anchor="middle" fill="#fff" x="1122" y="386.9">图号</text>
<text class="s" font-size="15" text-anchor="middle" fill="#fff" x="1168.05" y="386.9">备注</text>
<text class="a" font-size="13.7" transform="translate(511.6 411.1) scale(0.82 1)">MB...420</text>
<text class="a" font-size="13.7" transform="translate(592.8 411.1) scale(0.82 1)">(2")</text>
<text class="a" font-size="13.7" text-anchor="middle" transform="translate(682 411.7) scale(0.82 1)">19990562</text>
<text class="s" font-size="12.5" text-anchor="middle" x="785.9" y="409.3">包含</text>
<text class="a" font-size="13.7" text-anchor="middle" transform="translate(894 411.7) scale(0.82 1)">360</text>
<text class="s" font-size="12.5" text-anchor="middle" x="965.7" y="409.3">包含</text>
<text class="a" font-size="13.7" text-anchor="middle" transform="translate(1045.1 410.7) scale(0.82 1)">-</text>
<text class="a" font-size="13.7" text-anchor="middle" transform="translate(1121.9 411.2) scale(0.82 1)">D2</text>
<text class="a" font-size="13.7" transform="translate(511.6 428.7) scale(0.82 1)">VGD 20.050</text>
<text class="a" font-size="13.7" transform="translate(592.8 428.7) scale(0.82 1)">(2")</text>
<text class="a" font-size="13.7" text-anchor="middle" transform="translate(682 429.3) scale(0.82 1)">19990524</text>
<text class="s" font-size="12.5" text-anchor="middle" x="785.9" y="426.9">包含</text>
<text class="a" font-size="13.7" text-anchor="middle" transform="translate(894 429.3) scale(0.82 1)">500</text>
<text class="s" font-size="12.5" text-anchor="middle" x="965.7" y="426.9">包含</text>
<text class="a" font-size="13.7" text-anchor="middle" transform="translate(1045.1 428.3) scale(0.82 1)">-</text>
<text class="a" font-size="13.7" text-anchor="middle" transform="translate(1121.9 428.8) scale(0.82 1)">D2</text>
<text class="a" font-size="13.7" transform="translate(511.6 446.2) scale(0.82 1)">VGD 40.065</text>
<text class="a" font-size="13.7" transform="translate(592.8 446.2) scale(0.82 1)">(DN65)</text>
<text class="a" font-size="13.7" text-anchor="middle" transform="translate(682 446.8) scale(0.82 1)">19990525</text>
<text class="s" font-size="12.5" text-anchor="middle" x="785.9" y="444.4">包含</text>
<text class="a" font-size="13.7" text-anchor="middle" transform="translate(894 446.8) scale(0.82 1)">500</text>
<text class="s" font-size="12.5" text-anchor="middle" x="965.7" y="444.4">包含</text>
<text class="a" font-size="13.7" text-anchor="middle" transform="translate(1045.1 445.8) scale(0.82 1)">-</text>
<text class="a" font-size="13.7" text-anchor="middle" transform="translate(1121.9 446.3) scale(0.82 1)">D2</text>
<text class="a" font-size="13.7" transform="translate(511.6 463.8) scale(0.82 1)">VGD 40.080</text>
<text class="a" font-size="13.7" transform="translate(592.8 463.8) scale(0.82 1)">(DN80)</text>
<text class="a" font-size="13.7" text-anchor="middle" transform="translate(682 464.4) scale(0.82 1)">19990526</text>
<text class="s" font-size="12.5" text-anchor="middle" x="785.9" y="462">包含</text>
<text class="a" font-size="13.7" text-anchor="middle" transform="translate(894 464.4) scale(0.82 1)">500</text>
<text class="s" font-size="12.5" text-anchor="middle" x="965.7" y="462">包含</text>
<text class="a" font-size="13.7" text-anchor="middle" transform="translate(1045.1 463.4) scale(0.82 1)">-</text>
<text class="a" font-size="13.7" text-anchor="middle" transform="translate(1121.9 463.9) scale(0.82 1)">D2</text>
</svg></div>
<div class="sec vt2" style="left:495px;top:795px;width:703px;height:125px"><svg width="703" height="125" viewBox="495 795 703 125" fill="#231f20">
<text class="a" font-size="14.9" x="504.5" y="812.4" textLength="134" lengthAdjust="spacingAndGlyphs">TBG 360 LX ME FGR</text>
<text class="h" font-size="15.4" text-anchor="end" font-weight="bold" x="1186.6" y="812.7">天然气</text>
<rect x="503.4" y="819.2" width="686.6" height="37.5" fill="#7fd3f5"/>
<rect x="638.5" y="819.7" width="2.2" height="36.5" fill="#fff"/>
<rect x="724.9" y="819.7" width="2.2" height="36.5" fill="#fff"/>
<rect x="849.7" y="819.7" width="2.2" height="36.5" fill="#fff"/>
<rect x="935.2" y="819.7" width="2.2" height="36.5" fill="#fff"/>
<rect x="994.9" y="819.7" width="2.2" height="36.5" fill="#fff"/>
<rect x="1096.7" y="819.7" width="2.2" height="36.5" fill="#fff"/>
<rect x="1143.2" y="819.7" width="2.2" height="36.5" fill="#fff"/>
<rect x="503.4" y="856.7" width="686.6" height="52.2" fill="#e8f6fd"/>
<rect x="503.4" y="873" width="686.6" height="1.4" fill="#5bc8ef"/>
<rect x="503.4" y="890.9" width="686.6" height="1.4" fill="#5bc8ef"/>
<rect x="503.4" y="908.2" width="686.6" height="1.4" fill="#5bc8ef"/>
<text class="s" font-size="15" text-anchor="middle" fill="#fff" x="574.9" y="847.1">曲线</text>
<text class="s" font-size="15" text-anchor="middle" fill="#fff" x="682" y="847.1">阀组编号</text>
<text class="s" font-size="15" text-anchor="middle" fill="#fff" x="786.6" y="847.1">检漏</text>
<text class="s" font-size="14.8" text-anchor="middle" fill="#fff" x="893.6" y="839.1" textLength="70.5" lengthAdjust="spacingAndGlyphs">最大压力**</text>
<text class="a" font-size="16" text-anchor="middle" fill="#fff" x="893.8" y="852.5" textLength="31.5" lengthAdjust="spacingAndGlyphs">mbar</text>
<text class="s" font-size="14.4" text-anchor="middle" fill="#fff" x="965.8" y="838.8" textLength="44" lengthAdjust="spacingAndGlyphs">过滤器</text>
<text class="s" font-size="14.2" text-anchor="middle" fill="#fff" x="965.8" y="853.9" textLength="44" lengthAdjust="spacingAndGlyphs">调压器</text>
<text class="s" font-size="14.4" text-anchor="middle" fill="#fff" x="1044" y="838.8" textLength="85.5" lengthAdjust="spacingAndGlyphs">燃烧器／阀组</text>
<text class="s" font-size="14.2" text-anchor="middle" fill="#fff" x="1044" y="853.9" textLength="44.5" lengthAdjust="spacingAndGlyphs">适配器</text>
<text class="s" font-size="15" text-anchor="middle" fill="#fff" x="1122" y="847.1">图号</text>
<text class="s" font-size="15" text-anchor="middle" fill="#fff" x="1166.85" y="847.1">备注</text>
<text class="a" font-size="13.7" transform="translate(511.6 870.6) scale(0.82 1)">VGD 20.050</text>
<text class="a" font-size="13.7" transform="translate(592.8 870.6) scale(0.82 1)">(2")</text>
<text class="a" font-size="13.7" text-anchor="middle" transform="translate(682 870.7) scale(0.82 1)">19990524</text>
<text class="s" font-size="12.5" text-anchor="middle" x="785.9" y="870.2">包含</text>
<text class="a" font-size="13.7" text-anchor="middle" transform="translate(894 870.7) scale(0.82 1)">500</text>
<text class="s" font-size="12.5" text-anchor="middle" x="965.7" y="870.2">包含</text>
<text class="a" font-size="13.7" text-anchor="middle" transform="translate(1045.1 871.1) scale(0.82 1)">96000035</text>
<text class="a" font-size="13.7" text-anchor="middle" transform="translate(1121.9 869.5) scale(0.82 1)">D2</text>
<text class="a" font-size="13.7" transform="translate(511.6 888.5) scale(0.82 1)">VGD 40.065</text>
<text class="a" font-size="13.7" transform="translate(592.8 888.5) scale(0.82 1)">(DN65)</text>
<text class="a" font-size="13.7" text-anchor="middle" transform="translate(682 888.6) scale(0.82 1)">19990577</text>
<text class="s" font-size="12.5" text-anchor="middle" x="785.9" y="888.1">包含</text>
<text class="a" font-size="13.7" text-anchor="middle" transform="translate(894 888.6) scale(0.82 1)">500</text>
<text class="s" font-size="12.5" text-anchor="middle" x="965.7" y="888.1">包含</text>
<text class="a" font-size="13.7" text-anchor="middle" transform="translate(1045.1 888.3) scale(0.82 1)">-</text>
<text class="a" font-size="13.7" text-anchor="middle" transform="translate(1121.9 887.4) scale(0.82 1)">D2</text>
<text class="a" font-size="13.7" transform="translate(511.6 905.8) scale(0.82 1)">VGD 40.080</text>
<text class="a" font-size="13.7" transform="translate(592.8 905.8) scale(0.82 1)">(DN80)</text>
<text class="a" font-size="13.7" text-anchor="middle" transform="translate(682 905.9) scale(0.82 1)">19990578</text>
<text class="s" font-size="12.5" text-anchor="middle" x="785.9" y="905.4">包含</text>
<text class="a" font-size="13.7" text-anchor="middle" transform="translate(894 905.9) scale(0.82 1)">500</text>
<text class="s" font-size="12.5" text-anchor="middle" x="965.7" y="905.4">包含</text>
<text class="a" font-size="13.7" text-anchor="middle" transform="translate(1045.1 905.6) scale(0.82 1)">-</text>
<text class="a" font-size="13.7" text-anchor="middle" transform="translate(1121.9 904.7) scale(0.82 1)">D2</text>
</svg></div>
<div class="sec vt3" style="left:495px;top:1315px;width:703px;height:140px"><svg width="703" height="140" viewBox="495 1315 703 140" fill="#231f20">
<text class="a" font-size="14.9" x="504.5" y="1332.4" textLength="134" lengthAdjust="spacingAndGlyphs">TBG 480 LX ME FGR</text>
<text class="h" font-size="15.4" text-anchor="end" font-weight="bold" x="1187.6" y="1332.7">天然气</text>
<rect x="503.4" y="1340" width="686.6" height="37.1" fill="#7fd3f5"/>
<rect x="638.5" y="1340.5" width="2.2" height="36.1" fill="#fff"/>
<rect x="724.9" y="1340.5" width="2.2" height="36.1" fill="#fff"/>
<rect x="849.7" y="1340.5" width="2.2" height="36.1" fill="#fff"/>
<rect x="935.2" y="1340.5" width="2.2" height="36.1" fill="#fff"/>
<rect x="994.9" y="1340.5" width="2.2" height="36.1" fill="#fff"/>
<rect x="1096.7" y="1340.5" width="2.2" height="36.1" fill="#fff"/>
<rect x="1145.2" y="1340.5" width="2.2" height="36.1" fill="#fff"/>
<rect x="503.4" y="1377.1" width="686.6" height="70.5" fill="#e8f6fd"/>
<rect x="503.4" y="1393.4" width="686.6" height="1.4" fill="#5bc8ef"/>
<rect x="503.4" y="1410.9" width="686.6" height="1.4" fill="#5bc8ef"/>
<rect x="503.4" y="1428.5" width="686.6" height="1.4" fill="#5bc8ef"/>
<rect x="503.4" y="1446.9" width="686.6" height="1.4" fill="#5bc8ef"/>
<text class="s" font-size="15" text-anchor="middle" fill="#fff" x="574.9" y="1367.9">曲线</text>
<text class="s" font-size="15" text-anchor="middle" fill="#fff" x="682" y="1367.9">阀组编号</text>
<text class="s" font-size="15" text-anchor="middle" fill="#fff" x="786.6" y="1367.9">检漏</text>
<text class="s" font-size="14.8" text-anchor="middle" fill="#fff" x="893.6" y="1359.9" textLength="70.5" lengthAdjust="spacingAndGlyphs">最大压力**</text>
<text class="a" font-size="16" text-anchor="middle" fill="#fff" x="893.8" y="1373.3" textLength="31.5" lengthAdjust="spacingAndGlyphs">mbar</text>
<text class="s" font-size="14.4" text-anchor="middle" fill="#fff" x="965.8" y="1359.6" textLength="44" lengthAdjust="spacingAndGlyphs">过滤器</text>
<text class="s" font-size="14.2" text-anchor="middle" fill="#fff" x="965.8" y="1374.7" textLength="44" lengthAdjust="spacingAndGlyphs">调压器</text>
<text class="s" font-size="14.4" text-anchor="middle" fill="#fff" x="1044" y="1359.6" textLength="85.5" lengthAdjust="spacingAndGlyphs">燃烧器／阀组</text>
<text class="s" font-size="14.2" text-anchor="middle" fill="#fff" x="1044" y="1374.7" textLength="44.5" lengthAdjust="spacingAndGlyphs">适配器</text>
<text class="s" font-size="15" text-anchor="middle" fill="#fff" x="1122" y="1367.9">图号</text>
<text class="s" font-size="15" text-anchor="middle" fill="#fff" x="1167.85" y="1367.9">备注</text>
<text class="a" font-size="13.7" transform="translate(511.6 1390.5) scale(0.82 1)">VGD 20.050</text>
<text class="a" font-size="13.7" transform="translate(592.8 1390.5) scale(0.82 1)">(2")</text>
<text class="a" font-size="13.7" text-anchor="middle" transform="translate(682 1393.9) scale(0.82 1)">19990541</text>
<text class="s" font-size="12.5" text-anchor="middle" x="785.9" y="1391.1">包含</text>
<text class="a" font-size="13.7" text-anchor="middle" transform="translate(894 1393.9) scale(0.82 1)">360</text>
<text class="s" font-size="12.5" text-anchor="middle" x="965.7" y="1391.1">包含</text>
<text class="a" font-size="13.7" text-anchor="middle" transform="translate(1045.1 1390.8) scale(0.82 1)">-</text>
<text class="a" font-size="13.7" text-anchor="middle" transform="translate(1121.9 1393.1) scale(0.82 1)">D4</text>
<text class="a" font-size="13.7" transform="translate(511.6 1408) scale(0.82 1)">VGD 40.065</text>
<text class="a" font-size="13.7" transform="translate(592.8 1408) scale(0.82 1)">(DN65)</text>
<text class="a" font-size="13.7" text-anchor="middle" transform="translate(682 1411.4) scale(0.82 1)">19990542</text>
<text class="s" font-size="12.5" text-anchor="middle" x="785.9" y="1408.6">包含</text>
<text class="a" font-size="13.7" text-anchor="middle" transform="translate(894 1411.4) scale(0.82 1)">500</text>
<text class="s" font-size="12.5" text-anchor="middle" x="965.7" y="1408.6">包含</text>
<text class="a" font-size="13.7" text-anchor="middle" transform="translate(1045.1 1408.3) scale(0.82 1)">-</text>
<text class="a" font-size="13.7" text-anchor="middle" transform="translate(1121.9 1410.6) scale(0.82 1)">D4</text>
<text class="a" font-size="13.7" transform="translate(511.6 1425.6) scale(0.82 1)">VGD 40.080</text>
<text class="a" font-size="13.7" transform="translate(592.8 1425.6) scale(0.82 1)">(DN80)</text>
<text class="a" font-size="13.7" text-anchor="middle" transform="translate(682 1429) scale(0.82 1)">19990543</text>
<text class="s" font-size="12.5" text-anchor="middle" x="785.9" y="1426.2">包含</text>
<text class="a" font-size="13.7" text-anchor="middle" transform="translate(894 1429) scale(0.82 1)">500</text>
<text class="s" font-size="12.5" text-anchor="middle" x="965.7" y="1426.2">包含</text>
<text class="a" font-size="13.7" text-anchor="middle" transform="translate(1045.1 1425.9) scale(0.82 1)">-</text>
<text class="a" font-size="13.7" text-anchor="middle" transform="translate(1121.9 1428.2) scale(0.82 1)">D4</text>
<text class="a" font-size="13.7" transform="translate(511.6 1444) scale(0.82 1)">VGD 40.100</text>
<text class="a" font-size="13.7" transform="translate(592.8 1444) scale(0.82 1)">(DN100)</text>
<text class="a" font-size="13.7" text-anchor="middle" transform="translate(682 1447.4) scale(0.82 1)">19990544</text>
<text class="s" font-size="12.5" text-anchor="middle" x="785.9" y="1444.6">包含</text>
<text class="a" font-size="13.7" text-anchor="middle" transform="translate(894 1447.4) scale(0.82 1)">500</text>
<text class="s" font-size="12.5" text-anchor="middle" x="965.7" y="1444.6">包含</text>
<text class="a" font-size="13.7" text-anchor="middle" transform="translate(1045.1 1444.3) scale(0.82 1)">-</text>
<text class="a" font-size="13.7" text-anchor="middle" transform="translate(1121.9 1446.6) scale(0.82 1)">D4</text>
</svg></div>
</body>
</html>
